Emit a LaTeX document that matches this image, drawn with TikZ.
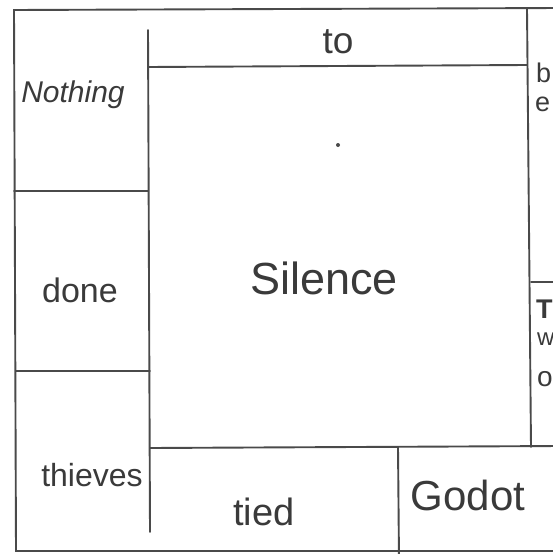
\documentclass[tikz,border=0pt]{standalone}
\usepackage{fontspec}
\setmainfont{Liberation Sans}
\definecolor{ink}{HTML}{4A4A4A}
\definecolor{txt}{HTML}{3A3A3A}
\tikzset{
  rule/.style={draw=ink, line width=1.9pt, line cap=round},
  word/.style={text=txt, inner sep=0pt},
}
\begin{document}
\begin{tikzpicture}[x=1pt,y=-1pt]
\useasboundingbox (0,0) rectangle (553,554);
\fill[white] (0,0) rectangle (553,554);
\begin{scope}
\clip (0,0) rectangle (553,554);
% outer frame
\draw[rule] (560,8) -- (14,10) -- (16,551) -- (560,551);
% left column
\draw[rule] (148,30) -- (150,532);
\draw[rule] (14,191) -- (148,191);
\draw[rule] (16,371) -- (150,371);
% top strip and centre box
\draw[rule] (148,67) -- (527,65);
\draw[rule] (527,9) -- (531,447);
\draw[rule] (150,448) -- (560,446);
\draw[rule] (398,447) -- (399,560);
\draw[rule] (531,282) -- (560,282);
% dot
\fill[ink] (338,145) circle (2);
% texts
\node[word, font=\fontsize{30}{30}\selectfont\itshape] (nothing) at (73,95) {Nothing};
\node[word, font=\fontsize{37}{37}\selectfont] (to) at (338,42) {to};
\node[word, font=\fontsize{34}{34}\selectfont] (done) at (80,290) {done};
\node[word, font=\fontsize{45}{45}\selectfont] (silence) at (324,278) {Silence};
\node[word, font=\fontsize{32}{32}\selectfont] (thieves) at (92,475) {thieves};
\node[word, font=\fontsize{38}{38}\selectfont] (tied) at (264,512) {tied};
\node[word, font=\fontsize{42}{42}\selectfont] (godot) at (468,495) {Godot};
\node[word, anchor=west, font=\fontsize{27}{27}\selectfont] (b) at (536,73) {b};
\node[word, anchor=west, font=\fontsize{27}{27}\selectfont] (e) at (535,104) {e};
\node[word, anchor=west, font=\fontsize{27}{27}\selectfont\bfseries] (T) at (536,309) {T};
\node[word, anchor=west, font=\fontsize{24}{24}\selectfont] (w) at (537,339) {w};
\node[word, anchor=west, font=\fontsize{28}{28}\selectfont] (o) at (537,379) {o};
\end{scope}
\end{tikzpicture}
\end{document}
